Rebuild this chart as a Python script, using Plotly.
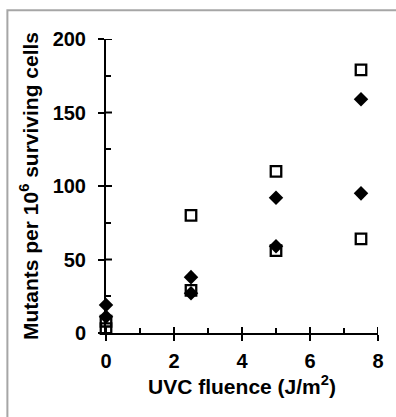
import plotly.graph_objects as go

# Data
fluence = [0, 0, 2.5, 2.5, 5, 5, 7.5, 7.5]
open_squares = [3, 8, 29, 80, 56, 110, 64, 179]
filled_diamonds = [11, 19, 27, 38, 59, 92, 95, 159]

x_major = [0, 2, 4, 6, 8]
x_minor = [1, 3, 5, 7]
y_major = [0, 50, 100, 150, 200]
y_minor = [25, 75, 125, 175]

W, H = 396, 417
L, R, T, B = 106, 18.3, 39.3, 84.2
pw, ph = W - L - R, H - T - B

FAM = "Liberation Sans, Arial"
tick_font = dict(family=FAM, size=20, color="#000", weight="bold")
title_font = dict(family=FAM, size=21, color="#000", weight="bold")

fig = go.Figure()
fig.add_trace(go.Scatter(
    x=fluence, y=open_squares, mode="markers", cliponaxis=False,
    marker=dict(symbol="square-open", size=10.5, color="#000", line=dict(width=2.3, color="#000")),
    showlegend=False, hoverinfo="x+y"))
fig.add_trace(go.Scatter(
    x=fluence, y=filled_diamonds, mode="markers", cliponaxis=False,
    marker=dict(symbol="diamond", size=11.2, color="#000", line=dict(width=0)),
    showlegend=False, hoverinfo="x+y"))

axis_common = dict(showgrid=False, zeroline=False, showline=True, linecolor="#000",
                   linewidth=2, ticks="outside", ticklen=6, tickwidth=2, tickcolor="#000",
                   tickfont=tick_font, layer="below traces", fixedrange=True)

# inner halves of the crossing major ticks
INNER = 6
shapes = []
for v in x_major:
    shapes.append(dict(type="line", xref="x", yref="y domain", x0=v, x1=v, y0=0, y1=INNER / ph,
                       line=dict(color="#000", width=2), layer="below"))
for v in y_major:
    shapes.append(dict(type="line", xref="x domain", yref="y", x0=0, x1=INNER / pw, y0=v, y1=v,
                       line=dict(color="#000", width=2), layer="below"))
# outer grey frame
shapes.append(dict(type="rect", xref="paper", yref="paper",
                   x0=(7.5 - L) / pw, x1=(W + 10 - L) / pw,
                   y0=-(B + 10) / ph, y1=(H - B - 10.5) / ph,
                   line=dict(color="#a6a6a6", width=2), fillcolor="rgba(0,0,0,0)", layer="above"))

fig.update_layout(
    width=W, height=H, autosize=False,
    margin=dict(l=L, r=R, t=T, b=B, pad=0),
    paper_bgcolor="white", plot_bgcolor="white",
    xaxis=dict(range=[0, 8], tickvals=x_major, ticktext=[str(v) for v in x_major],
               minor=dict(tickvals=x_minor, ticks="inside", ticklen=5, tickwidth=2, tickcolor="#000"),
               title=dict(text="UVC fluence (J/m<sup>2</sup>)", font=title_font, standoff=8),
               ticklabelstandoff=3,
               **axis_common),
    yaxis=dict(range=[0, 200], tickvals=y_major, ticktext=[str(v) for v in y_major],
               minor=dict(tickvals=y_minor, ticks="inside", ticklen=5, tickwidth=2, tickcolor="#000"),
               title=dict(text="Mutants per 10<sup>6</sup> surviving cells", font=title_font, standoff=8),
               ticklabelstandoff=8,
               **axis_common),
    shapes=shapes,
)

fig.write_html("out.html", config={"displayModeBar": False},
               post_script="document.body.style.margin='0';document.body.style.overflow='hidden';")
